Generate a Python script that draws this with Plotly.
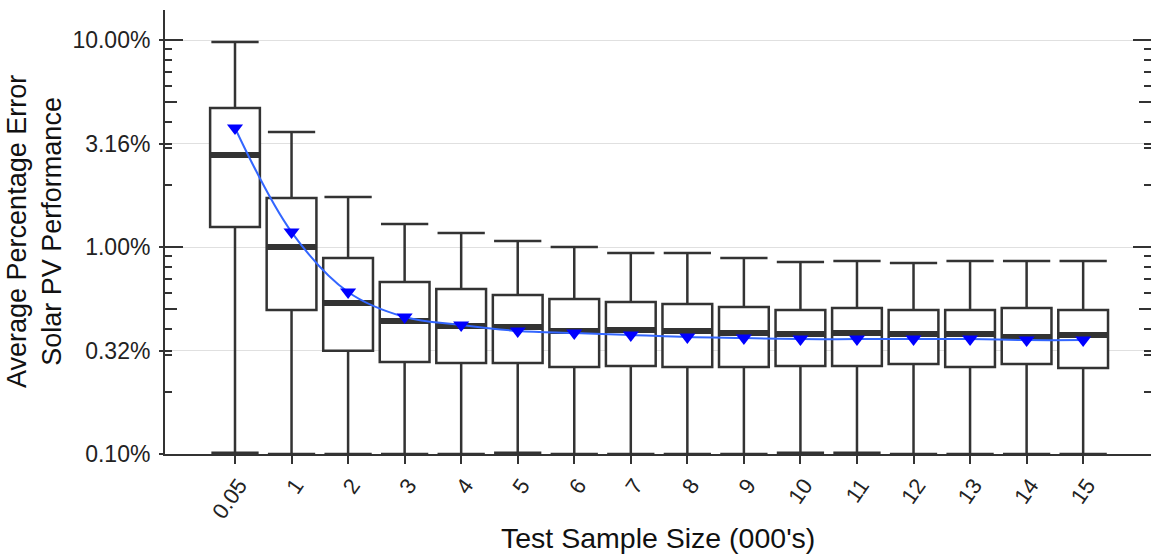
import plotly.graph_objects as go
import numpy as np

# ---- data (values in percent) ----
categories = ["0.05", "1", "2", "3", "4", "5", "6", "7", "8", "9", "10", "11", "12", "13", "14", "15"]
upper_whisker = [9.78, 3.59, 1.744, 1.29, 1.169, 1.07, 1.00, 0.935, 0.935, 0.885, 0.846, 0.856, 0.837, 0.856, 0.856, 0.856]
q3_values = [4.69, 1.725, 0.885, 0.678, 0.627, 0.586, 0.561, 0.542, 0.530, 0.513, 0.496, 0.507, 0.496, 0.496, 0.507, 0.496]
median_values = [2.78, 1.00, 0.536, 0.439, 0.415, 0.411, 0.393, 0.397, 0.393, 0.384, 0.380, 0.384, 0.380, 0.380, 0.367, 0.376]
q1_values = [1.249, 0.496, 0.315, 0.278, 0.275, 0.275, 0.263, 0.266, 0.263, 0.263, 0.266, 0.266, 0.272, 0.263, 0.272, 0.260]
lower_whisker = [0.1015, 0.100, 0.100, 0.100, 0.100, 0.1015, 0.100, 0.100, 0.100, 0.100, 0.1015, 0.1015, 0.100, 0.100, 0.100, 0.100]
mean_values = [3.76, 1.181, 0.606, 0.459, 0.420, 0.393, 0.384, 0.376, 0.367, 0.363, 0.359, 0.359, 0.359, 0.359, 0.355, 0.355]

y_tickvals = [0.1, 0.316, 1, 3.16, 10]
y_ticktext = ["0.10%", "0.32%", "1.00%", "3.16%", "10.00%"]

decades = [0.1, 1, 10]
minor_vals = [d * m for d in [0.1, 1] for m in [2, 3, 3.16, 4, 6, 7, 8, 9]]
half_vals = [0.5, 5]

DARK = "#333333"
FONT = "Liberation Sans, Arial, sans-serif"

fig = go.Figure()

fig.add_trace(go.Box(
    x=categories, q1=q1_values, median=median_values, q3=q3_values,
    lowerfence=lower_whisker, upperfence=upper_whisker,
    boxpoints=False, fillcolor="white", width=0.88,
    line=dict(color=DARK, width=2.5), whiskerwidth=0.95,
    showlegend=False, hoverinfo="skip",
))

# thick median bars
fig.add_trace(go.Scatter(
    x=categories, y=median_values, mode="markers",
    marker=dict(symbol="line-ew", size=35.5, line=dict(color=DARK, width=6)),
    showlegend=False, hoverinfo="skip",
))

# mean trend line
fig.add_trace(go.Scatter(
    x=categories, y=mean_values, mode="lines",
    line=dict(color="#3366ff", width=2, shape="spline", smoothing=1.0),
    showlegend=False, hoverinfo="skip",
))
# mean markers
fig.add_trace(go.Scatter(
    x=categories, y=mean_values, mode="markers",
    marker=dict(symbol="triangle-down", size=14, color="#0000ff", line=dict(width=0)),
    showlegend=False, hoverinfo="skip",
))

# helper traces to make overlay axes exist
fig.add_trace(go.Scatter(x=[], y=[], yaxis="y2", showlegend=False))
fig.add_trace(go.Scatter(x=[], y=[], yaxis="y3", showlegend=False))

yrange = [-1, 1.145]

fig.update_layout(
    width=1151, height=556,
    margin=dict(l=165, r=0, t=10, b=102),
    paper_bgcolor="white", plot_bgcolor="white",
    font=dict(family=FONT, color="#222222"),
    boxgap=0.12, boxgroupgap=0,
    xaxis=dict(
        type="category", range=[-1.238, 16.2],
        showline=True, linecolor=DARK, linewidth=1.5,
        ticks="outside", ticklen=8, tickwidth=2, tickcolor=DARK,
        tickangle=-55, tickfont=dict(size=22, family=FONT, color="#222222"),
        ticklabelshift=4,
        showgrid=False, zeroline=False,
    ),
    yaxis=dict(
        type="log", range=yrange,
        tickmode="array", tickvals=y_tickvals, ticktext=y_ticktext,
        tickfont=dict(size=23, family=FONT, color="#222222"),
        ticks="outside", ticklen=5, tickwidth=2, tickcolor=DARK,
        showline=False, mirror="ticks",
        showgrid=True, gridcolor="#e0e0e0", gridwidth=1,
        zeroline=False, ticklabelstandoff=4,
        minor=dict(tickmode="array", tickvals=minor_vals, ticks="inside",
                   ticklen=7, tickwidth=1.5, tickcolor=DARK, showgrid=False),
    ),
    yaxis2=dict(
        type="log", range=yrange, overlaying="y", anchor="x", side="left",
        tickmode="array", tickvals=decades, showticklabels=False,
        ticks="inside", ticklen=18, tickwidth=2, tickcolor=DARK,
        showline=False, mirror="ticks", showgrid=False, zeroline=False,
        minor=dict(tickmode="array", tickvals=half_vals, ticks="inside",
                   ticklen=12, tickwidth=1.5, tickcolor=DARK, showgrid=False),
    ),
    yaxis3=dict(
        type="log", range=yrange, overlaying="y", anchor="x", side="left",
        showticklabels=False, ticks="", showline=True, linecolor=DARK,
        linewidth=2, mirror=False, showgrid=False, zeroline=False,
    ),
    annotations=[
        dict(text="Test Sample Size (000's)", xref="paper", yref="paper",
             x=0.5, y=0, xanchor="center", yanchor="middle", yshift=-84,
             showarrow=False, font=dict(size=28.5, family=FONT, color="#111111")),
        dict(text="Average Percentage Error<br>Solar PV Performance",
             xref="paper", yref="paper", x=0, y=0.5, xshift=-131,
             xanchor="center", yanchor="middle", textangle=-90,
             showarrow=False, font=dict(size=27, family=FONT, color="#111111")),
    ],
)

fig.write_html("out.html")
